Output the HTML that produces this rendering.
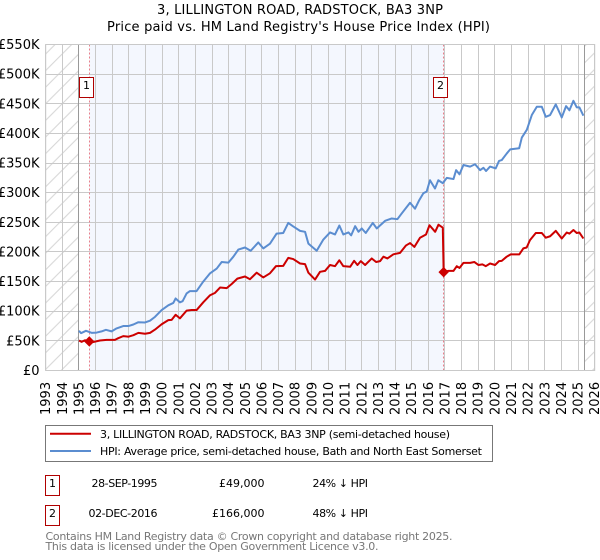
<!DOCTYPE html>
<html>
<head>
<meta charset="utf-8">
<title>3, LILLINGTON ROAD, RADSTOCK, BA3 3NP</title>
<style>
html,body{margin:0;padding:0;background:#fff;}
svg{display:block;}
text{font-family:"DejaVu Sans","Liberation Sans",sans-serif;fill:#000;}
</style>
</head>
<body>
<svg id="chart" width="600" height="560" viewBox="0 0 600 560" xmlns="http://www.w3.org/2000/svg">
<defs>
<pattern id="hatch" patternUnits="userSpaceOnUse" width="16.6" height="16.6">
<path d="M-1 17.6 L17.6 -1 M-1 1 L1 -1 M15.6 17.6 L17.6 15.6" stroke="#d4d4d4" stroke-width="1" fill="none"/>
</pattern>
</defs>
<text x="300" y="14" font-size="13" text-anchor="middle" textLength="286">3, LILLINGTON ROAD, RADSTOCK, BA3 3NP</text>
<text x="298.5" y="31" font-size="13" text-anchor="middle" textLength="383">Price paid vs. HM Land Registry's House Price Index (HPI)</text>
<g id="plot"></g>
<g>
<rect x="45.5" y="425.5" width="447" height="36" fill="#fff" stroke="#777" stroke-width="1"/>
<line x1="50" x2="91" y1="433.7" y2="433.7" stroke="#cc0000" stroke-width="2"/>
<text x="100" y="438" font-size="11" textLength="350">3, LILLINGTON ROAD, RADSTOCK, BA3 3NP (semi-detached house)</text>
<line x1="50" x2="91" y1="451" y2="451" stroke="#5b8dd0" stroke-width="2"/>
<text x="100" y="455" font-size="11" textLength="382">HPI: Average price, semi-detached house, Bath and North East Somerset</text>
</g>
<g>
<rect x="45.5" y="475.5" width="14" height="20" fill="#fff" stroke="#b00000" stroke-width="1"/>
<text x="52.5" y="487" font-size="11" text-anchor="middle">1</text>
<text x="157.5" y="487" font-size="11" text-anchor="end" textLength="66">28-SEP-1995</text>
<text x="264.5" y="487" font-size="11" text-anchor="end">£49,000</text>
<text x="312.5" y="487" font-size="11" textLength="55.5">24% ↓ HPI</text>
<rect x="45.5" y="505.5" width="14" height="20" fill="#fff" stroke="#b00000" stroke-width="1"/>
<text x="52.5" y="517" font-size="11" text-anchor="middle">2</text>
<text x="157.5" y="517" font-size="11" text-anchor="end" textLength="69">02-DEC-2016</text>
<text x="264.5" y="517" font-size="11" text-anchor="end">£166,000</text>
<text x="312.5" y="517" font-size="11" textLength="55.5">48% ↓ HPI</text>
</g>
<text x="45.5" y="540" font-size="11" style="fill:#777" textLength="407">Contains HM Land Registry data © Crown copyright and database right 2025.</text>
<text x="45.5" y="550" font-size="11" style="fill:#777" textLength="333">This data is licensed under the Open Government Licence v3.0.</text>
</svg>
<script>
const yearTicks = [1993,1994,1995,1996,1997,1998,1999,2000,2001,2002,2003,2004,2005,2006,2007,2008,2009,2010,2011,2012,2013,2014,2015,2016,2017,2018,2019,2020,2021,2022,2023,2024,2025,2026];
const priceTicks = [0,50,100,150,200,250,300,350,400,450,500,550];
const priceTickLabels = ['£0','£50K','£100K','£150K','£200K','£250K','£300K','£350K','£400K','£450K','£500K','£550K'];

const hpiDates = [1995.0,1995.12,1995.42,1995.76,1996.06,1996.36,1996.62,1996.96,1997.26,1997.66,1997.97,1998.27,1998.57,1998.97,1999.27,1999.57,1999.97,2000.37,2000.67,2000.81,2001.07,2001.23,2001.47,2001.67,2002.07,2002.47,2002.88,2003.28,2003.58,2003.98,2004.28,2004.58,2004.98,2005.32,2005.78,2006.08,2006.48,2006.88,2007.28,2007.58,2007.88,2008.29,2008.59,2008.79,2009.29,2009.69,2010.09,2010.39,2010.65,2010.89,2011.2,2011.36,2011.6,2011.8,2012.0,2012.24,2012.66,2012.9,2013.4,2013.8,2014.14,2014.4,2014.9,2015.2,2015.46,2015.7,2015.9,2016.1,2016.4,2016.6,2016.87,2017.11,2017.51,2017.67,2017.87,2018.11,2018.51,2018.81,2019.11,2019.31,2019.47,2019.71,2020.05,2020.25,2020.41,2020.71,2020.92,2021.46,2021.62,2021.92,2022.22,2022.52,2022.82,2023.06,2023.32,2023.66,2024.02,2024.28,2024.48,2024.72,2024.92,2025.08,2025.32];
const hpiValues = [67,63,67,63.5,64,66,68.6,66,71,75,75,77.6,81.5,81,84,90.5,102,110,114,121.5,115,117,130,134,134,150,164,172,183,182,192,204,207.5,202,216,206,214,231,232,249,243,235.6,234,214,202,221,233,229.5,244.6,229.5,233,228,243.5,234,239.6,232,249,239.6,252.5,256.5,255.3,265,283,273,287.7,299,302,321,307,321,316,325,323,338,331,346.7,344,348,338,342,336.6,344,341,353.6,355,366,373,375,393,406,431,445,445,428,431,449,427,446,439,455,444,444,430];

const priceDates = [1995.0,1995.16,1995.36,1995.62,1995.86,1996.26,1996.66,1997.16,1997.36,1997.66,1997.97,1998.27,1998.57,1998.97,1999.27,1999.57,1999.97,2000.37,2000.57,2000.81,2001.07,2001.47,2001.77,2002.07,2002.47,2002.88,2003.18,2003.48,2003.88,2004.18,2004.52,2004.98,2005.28,2005.68,2006.08,2006.48,2006.84,2007.28,2007.58,2007.88,2008.29,2008.59,2008.79,2009.19,2009.49,2009.79,2010.09,2010.39,2010.65,2010.89,2011.3,2011.54,2011.74,2011.94,2012.2,2012.6,2012.86,2013.1,2013.3,2013.54,2013.9,2014.3,2014.66,2014.9,2015.16,2015.5,2015.86,2016.07,2016.41,2016.61,2016.87,2016.92,2017.21,2017.51,2017.71,2017.87,2018.11,2018.51,2018.77,2019.01,2019.25,2019.45,2019.71,2020.01,2020.25,2020.41,2020.71,2020.95,2021.47,2021.71,2021.91,2022.11,2022.46,2022.82,2023.06,2023.32,2023.66,2024.02,2024.32,2024.48,2024.72,2024.92,2025.08,2025.32];
const priceValues = [50.6,48.4,51,49,48,50.6,51.7,51.7,54.5,58,57,59.6,63.5,62,63.5,69,78,85,85.5,94,88,101,102,102,115,127,131,140,139,146,155,158.6,154,165,157,164,176,176.6,190,188,180.5,179.4,165,153.5,166.5,168,178,176,186,176,175,185,178,184.5,178,189,183,184.5,192,189,196,198.5,211,215,208.5,224,229.5,245,234,246,241,166.5,168,168,176,173,181.6,181.6,183,178,179,176,180.5,178,184.5,185,192,196,196,206,207.5,220,232,232,224,226.5,235.6,222.7,232.8,231,237,232,232.8,222.7];

const saleDates = [1995.62, 2016.92];
const salePrices = [49, 166];
const saleLabels = ['1','2'];
const shadeStart = 1995;
const shadeEnd = 2025.36;

const NS = 'http://www.w3.org/2000/svg';
const plot = document.getElementById('plot');
const left = 45.7, right = 594.7, top_ = 44.5, bottom = 370.5;
function xScale(year){ return left + (year - 1993) * (right - left) / 33; }
function yScale(k){ return bottom - k * (bottom - top_) / 550; }
function add(tag, attrs, text){
  const el = document.createElementNS(NS, tag);
  for (const k in attrs) el.setAttribute(k, attrs[k]);
  if (text !== undefined) el.textContent = text;
  plot.appendChild(el);
  return el;
}
function crisp(v){ return Math.round(v - 0.5) + 0.5; }

const hatchLeft = add('rect', {x:left, y:top_, width:xScale(shadeStart)-left, height:bottom-top_, fill:'url(#hatch)'});


const hatchRight = add('rect', {x:xScale(shadeEnd), y:top_, width:right-xScale(shadeEnd), height:bottom-top_, fill:'url(#hatch)'});


const band = add('rect', {x:xScale(saleDates[0]), y:top_, width:xScale(saleDates[1])-xScale(saleDates[0]), height:bottom-top_, fill:'#f4f7fe'});



yearTicks.forEach(function(y){
  const px = crisp(xScale(y));
  const g = add('line', {x1:px, x2:px, y1:top_, y2:bottom, stroke:'#c9c9c9', 'stroke-width':1});
  
  
  const t = add('text', {x:0, y:0, 'font-size':13, transform:'translate('+(xScale(y)+4.5)+' 415) rotate(-90)'}, String(y));
  
  
});
priceTicks.forEach(function(v, i){
  const py = crisp(yScale(v));
  const g = add('line', {x1:left, x2:right, y1:py, y2:py, stroke:'#c9c9c9', 'stroke-width':1});
  
  
  const t = add('text', {x:39.5, y:yScale(v)+4.5, 'font-size':13, 'text-anchor':'end'}, priceTickLabels[i]);
  
  
});

[shadeStart, shadeEnd].forEach(function(d){
  const px = crisp(xScale(d));
  const b = add('line', {x1:px, x2:px, y1:top_, y2:bottom, stroke:'#999', 'stroke-width':1});
  
  
});

saleDates.forEach(function(d){
  const px = crisp(xScale(d));
  const s = add('line', {x1:px, x2:px, y1:top_, y2:bottom, stroke:'#e8808c', 'stroke-width':1, 'stroke-dasharray':'2 2'});
  
  
});

function pointsOf(dates, values){
  return dates.map(function(d, i){ return xScale(d).toFixed(2) + ',' + yScale(values[i]).toFixed(2); }).join(' ');
}
const hpiLine = add('polyline', {points:pointsOf(hpiDates, hpiValues), fill:'none', stroke:'#5b8dd0', 'stroke-width':2, 'stroke-linejoin':'round'});


const priceLine = add('polyline', {points:pointsOf(priceDates, priceValues), fill:'none', stroke:'#cc0000', 'stroke-width':2, 'stroke-linejoin':'round'});



saleDates.forEach(function(d, i){
  const cx = xScale(d), cy = yScale(salePrices[i]), r = 4.5;
  const m = add('polygon', {points:[cx-r,cy, cx,cy-r, cx+r,cy, cx,cy+r].join(' '), fill:'#cc0000', stroke:'#cc0000', 'stroke-width':1});
  
  
  const bx = crisp(xScale(d)) - 10;
  const box = add('rect', {x:bx, y:77.5, width:14, height:20, fill:'#fff', stroke:'#b00000', 'stroke-width':1});
  
  
  const lab = add('text', {x:bx+7, y:89, 'font-size':11, 'text-anchor':'middle'}, saleLabels[i]);
  
  
});

const frame = add('rect', {x:left, y:top_, width:right-left, height:bottom-top_, fill:'none', stroke:'#c9c9c9', 'stroke-width':1});


</script>
</body>
</html>
